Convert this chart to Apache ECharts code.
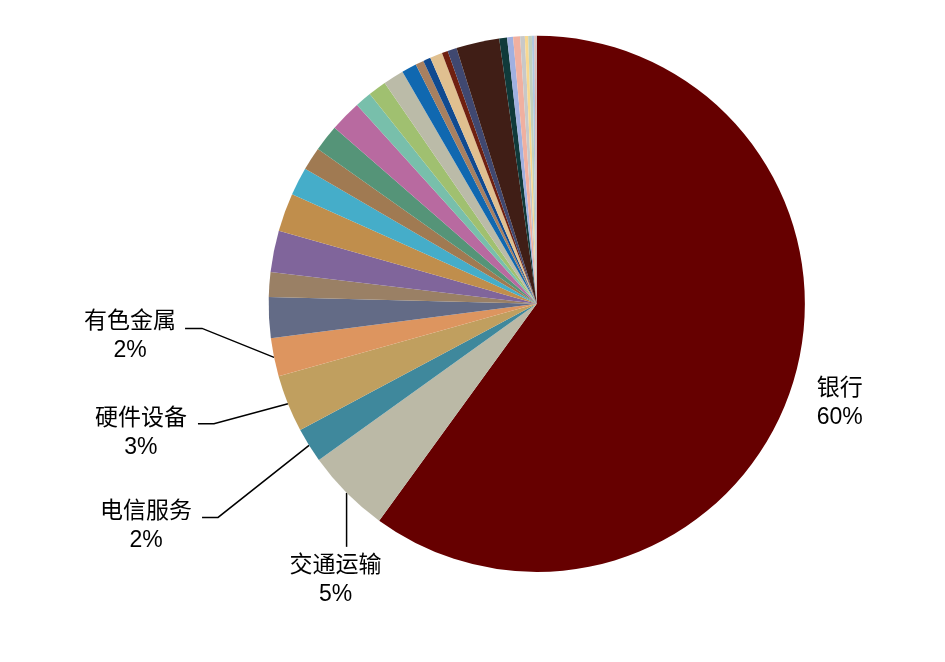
<!DOCTYPE html>
<html>
<head>
<meta charset="utf-8">
<script src="https://cdn.jsdelivr.net/npm/echarts@6/dist/echarts.min.js"></script>
<style>
html,body{margin:0;padding:0;background:#fff;}
#chart{width:945px;height:662px;}
</style>
</head>
<body>
<div id="chart"></div>
<script>
// Categories in clockwise order from 12 o'clock
const categories = [
  '银行','交通运输','电信服务','硬件设备','有色金属','非银金融','房地产','医药生物',
  '食品饮料','化工','公用事业','建筑装饰','汽车','家用电器','电气设备','机械设备',
  '钢铁','采掘','商业贸易','轻工制造','农林牧渔','纺织服装','煤炭','石油石化',
  '传媒','计算机','休闲服务','国防军工','建筑材料','综合','环保','美容护理'
];
// Share of each category (%)
const values = [
  60.0, 5.1, 2.1, 3.45, 2.3, 2.45, 1.5, 2.5,
  2.3, 1.7, 1.4, 1.6, 1.9, 1.0, 1.1, 1.25,
  0.9, 0.5, 0.45, 0.75, 0.36, 0.55, 2.6, 0.47,
  0.36, 0.42, 0.28, 0.2, 0.22, 0.15, 0.08, 0.06
];
const colors = [
  '#660000','#BBB9A6','#3F889C','#C09F5F','#DD955F','#636B86','#9A8065','#80659B',
  '#C08E4C','#45ADC9','#A07A52','#559478','#B86AA0','#78BFAB','#A0C070','#BBBBA8',
  '#1068B0','#A88060','#104A90','#E0C090','#702010','#404870','#401E16','#103A3A',
  '#A0B0E0','#F0B0A0','#C8C8C8','#F8D890','#C0D0C0','#B0C8E0','#E0B0B0','#D0C8C0'
];
// Labelled slices and their label placement (offsets from the slice's outer edge point)
const labelled = {
  '银行':     {line: null,                      text: [48, 16]},
  '交通运输': {line: [[0, 0], [0, 27], [0, 54]],   text: [-11, 87]},
  '电信服务': {line: [[0, 0], [-91, 72], [-107, 72]], text: [-163, 81]},
  '硬件设备': {line: [[0, 0], [-74, 20], [-90, 20]],  text: [-147, 29]},
  '有色金属': {line: [[0, 0], [-72, -29], [-89, -29]], text: [-144, -21]}
};

const CENTER = [0.568, 0.459];
const RADIUS = 0.81;

const chart = echarts.init(document.getElementById('chart'));
const total = values.reduce((a, b) => a + b, 0);

const data = categories.map((name, i) => {
  const lab = labelled[name];
  return {
    name: name,
    value: values[i],
    itemStyle: {color: colors[i]},
    label: {show: !!lab},
    labelLine: {show: !!(lab && lab.line)}
  };
});

function edgePoint(idx) {
  let cum = 0;
  for (let i = 0; i < idx; i++) cum += values[i];
  const mid = (cum + values[idx] / 2) / total * Math.PI * 2;
  const W = chart.getWidth(), H = chart.getHeight();
  const cx = CENTER[0] * W, cy = CENTER[1] * H;
  const r = RADIUS * Math.min(W, H) / 2;
  return [cx + r * Math.sin(mid), cy - r * Math.cos(mid)];
}

chart.setOption({
  backgroundColor: '#ffffff',
  animation: false,
  series: [{
    type: 'pie',
    center: [(CENTER[0] * 100) + '%', (CENTER[1] * 100) + '%'],
    radius: (RADIUS * 100) + '%',
    startAngle: 90,
    clockwise: true,
    avoidLabelOverlap: false,
    itemStyle: {borderWidth: 0},
    label: {
      position: 'outside',
      color: '#000',
      fontSize: 23,
      lineHeight: 29,
      fontFamily: '"Liberation Sans", Arial, "Noto Sans CJK SC", sans-serif',
      formatter: p => p.name + '\n' + Math.round(p.percent) + '%'
    },
    labelLine: {
      length: 20, length2: 15,
      lineStyle: {color: '#000', width: 1.5}
    },
    labelLayout: function (params) {
      const idx = params.dataIndex;
      const lab = labelled[categories[idx]];
      if (!lab) return;
      const e = edgePoint(idx);
      const out = {
        x: e[0] + lab.text[0],
        y: e[1] + lab.text[1],
        align: 'center',
        verticalAlign: 'middle'
      };
      if (lab.line) {
        out.labelLinePoints = lab.line.map(p => [e[0] + p[0], e[1] + p[1]]);
      }
      return out;
    },
    data: data
  }]
});
</script>
</body>
</html>
